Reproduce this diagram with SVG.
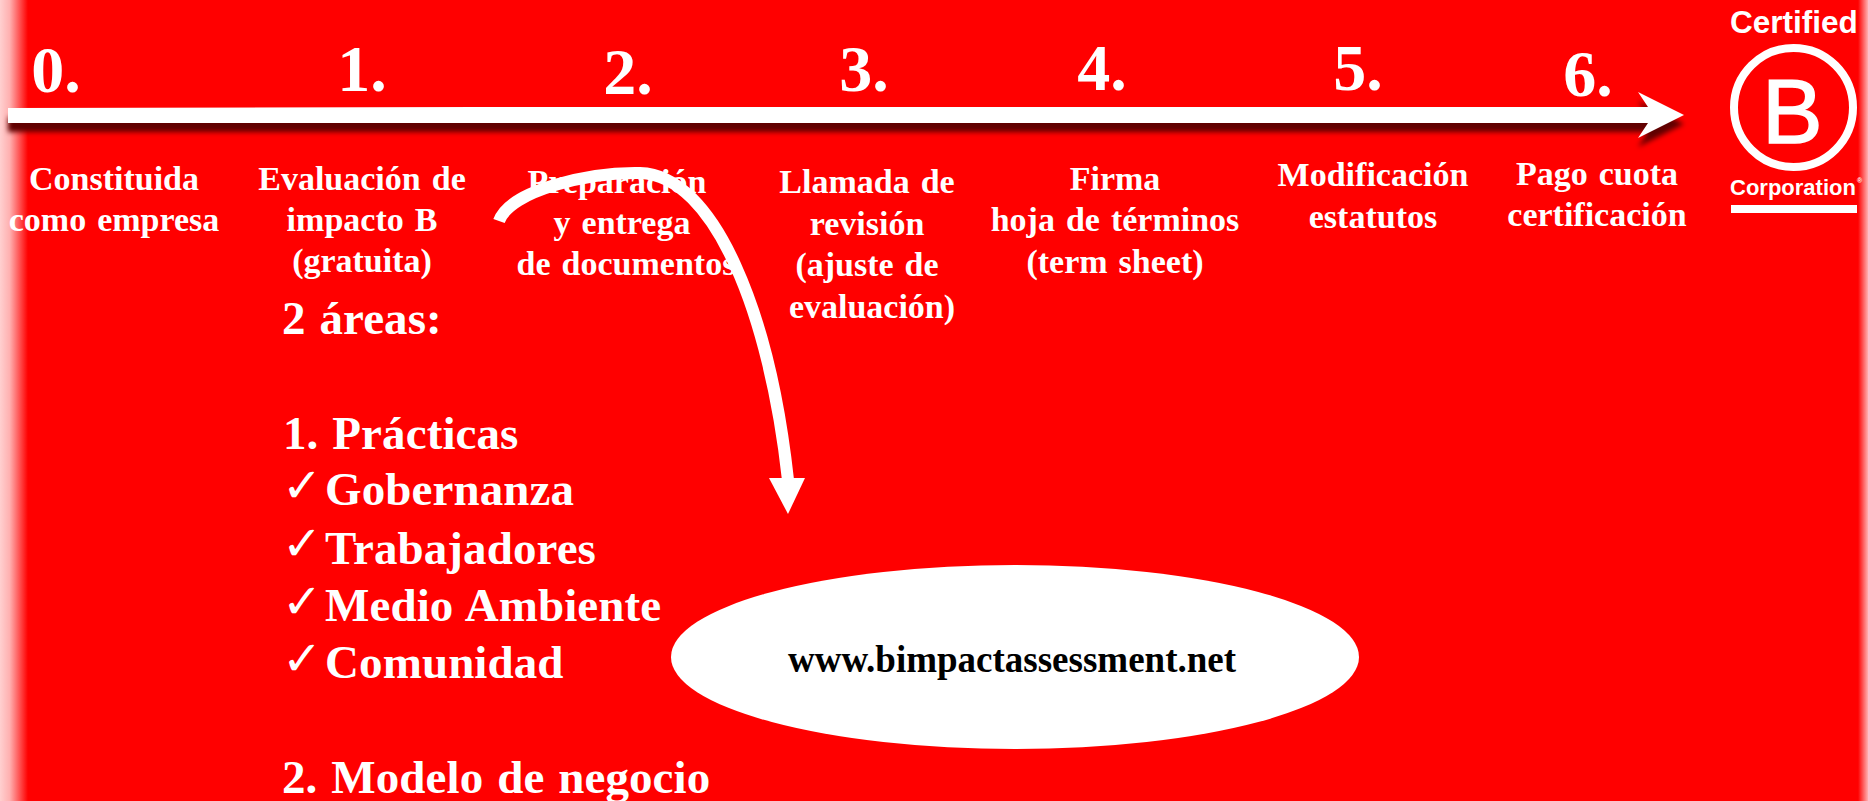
<svg xmlns="http://www.w3.org/2000/svg" width="1868" height="801" viewBox="0 0 1868 801">
<style>
text{font-family:"Liberation Serif","Times New Roman",serif;font-weight:700;fill:#fff}
.num{font-size:66px;text-anchor:middle}
.lab{font-size:34px;text-anchor:middle;word-spacing:2.5px}
.big{font-size:47px;letter-spacing:.1px;word-spacing:2px}
.chk{font-family:"DejaVu Sans",sans-serif;font-weight:700;font-size:48px}
.logo{font-family:"Liberation Sans",Arial,sans-serif}
</style>
<defs>
<linearGradient id="gl" x1="0" x2="1" y1="0" y2="0"><stop offset="0" stop-color="#ffd0d0"/><stop offset=".35" stop-color="#ffb0b0"/><stop offset="1" stop-color="#f00"/></linearGradient>
<linearGradient id="gr" x1="0" x2="1" y1="0" y2="0"><stop offset="0" stop-color="#f00"/><stop offset="1" stop-color="#ffb0b0"/></linearGradient>
<filter id="sh" x="-2%" y="-60%" width="104%" height="220%" color-interpolation-filters="sRGB"><feGaussianBlur in="SourceAlpha" stdDeviation="2.8"/><feOffset dx="0" dy="9"/><feComponentTransfer result="s"><feFuncR type="linear" slope="0" intercept=".38"/><feFuncG type="linear" slope="0"/><feFuncB type="linear" slope="0"/></feComponentTransfer><feMerge><feMergeNode in="s"/><feMergeNode in="SourceGraphic"/></feMerge></filter>
</defs>
<rect width="1868" height="801" fill="#f00"/>
<rect width="28" height="801" fill="url(#gl)"/>
<rect x="1858" width="10" height="801" fill="url(#gr)"/>
<g id="connectors">
<polygon id="timeline" filter="url(#sh)" fill="#fff" points="8,108 480,107 1648,107 1638,92 1684,115 1638,138 1648,123 480,123 8,123"/>
<path id="curve" d="M499 221C510 190 590 172 640 173C715 175 770 315 788 480" fill="none" stroke="#fff" stroke-width="12"/>
<polygon fill="#fff" points="769,478 805,478 788,514"/>
</g>
<g id="step0"><text class="num" x="56" y="92">0.</text><text class="lab" x="114" y="190">Constituida</text><text class="lab" x="114" y="231">como empresa</text></g>
<g id="step1"><text class="num" x="362" y="91">1.</text><text class="lab" x="362" y="190">Evaluación de</text><text class="lab" x="362" y="231">impacto B</text><text class="lab" x="362" y="272">(gratuita)</text></g>
<g id="step2"><text class="num" x="628" y="94">2.</text><text class="lab" x="617" y="193">Preparación</text><text class="lab" x="622" y="234">y entrega</text><text class="lab" x="626" y="275">de documentos</text></g>
<g id="step3"><text class="num" x="864" y="91">3.</text><text class="lab" x="867" y="193">Llamada de</text><text class="lab" x="867" y="235">revisión</text><text class="lab" x="867" y="276">(ajuste de</text><text class="lab" x="872" y="318">evaluación)</text></g>
<g id="step4"><text class="num" x="1102" y="90">4.</text><text class="lab" x="1115" y="190">Firma</text><text class="lab" x="1115" y="231">hoja de términos</text><text class="lab" x="1115" y="273">(term sheet)</text></g>
<g id="step5"><text class="num" x="1358" y="90">5.</text><text class="lab" x="1373" y="186">Modificación</text><text class="lab" x="1373" y="228">estatutos</text></g>
<g id="step6"><text class="num" x="1588" y="96">6.</text><text class="lab" x="1597" y="185">Pago cuota</text><text class="lab" x="1597" y="226">certificación</text></g>
<g id="areas">
<text class="big" x="282" y="334">2 áreas:</text>
<text class="big" x="283" y="449">1. Prácticas</text>
<text class="chk" x="282" y="502">✓</text><text class="big" x="325" y="505">Gobernanza</text>
<text class="chk" x="282" y="560">✓</text><text class="big" x="325" y="564">Trabajadores</text>
<text class="chk" x="282" y="618">✓</text><text class="big" x="325" y="621">Medio Ambiente</text>
<text class="chk" x="282" y="675">✓</text><text class="big" x="325" y="678">Comunidad</text>
<text class="big" x="282" y="793">2. Modelo de negocio</text>
</g>
<g id="web"><ellipse cx="1015" cy="657" rx="344" ry="92" fill="#fff"/><text x="1012" y="672" font-size="37" text-anchor="middle" style="fill:#000">www.bimpactassessment.net</text></g>
<g id="logo">
<text class="logo" x="1730" y="33" font-size="31.5">Certified</text>
<circle cx="1793.5" cy="107.5" r="59.5" fill="none" stroke="#fff" stroke-width="8"/>
<text class="logo" x="1762" y="143" font-size="91" style="font-weight:400;stroke:#fff;stroke-width:1.5px">B</text>
<text class="logo" x="1730" y="195" font-size="22">Corporation</text>
<text class="logo" x="1857" y="183" font-size="7">®</text>
<rect x="1731" y="205" width="126" height="8" fill="#fff"/>
</g>
</svg>
